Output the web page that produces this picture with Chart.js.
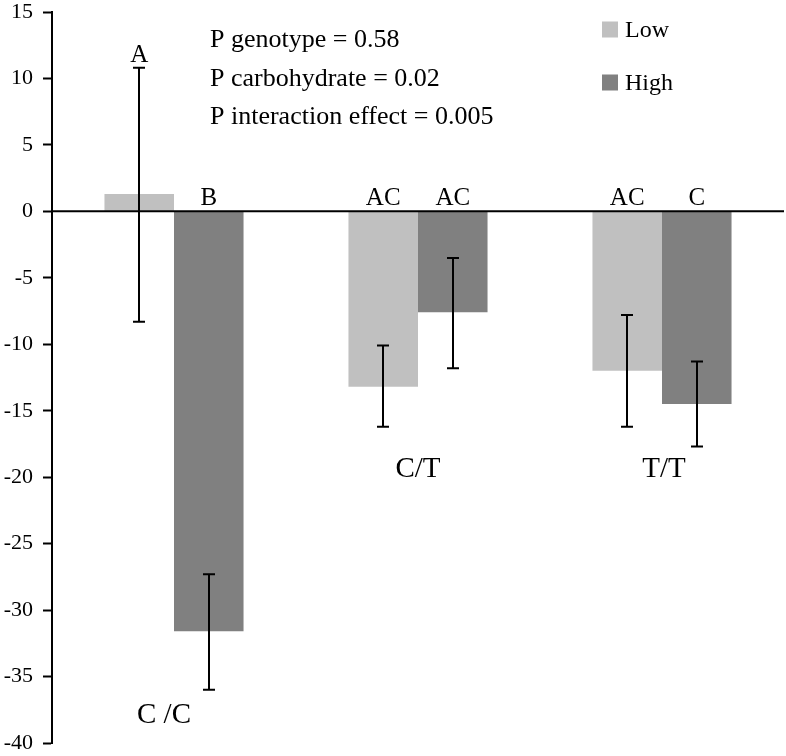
<!DOCTYPE html>
<html>
<head>
<meta charset="utf-8">
<script src="https://cdn.jsdelivr.net/npm/chart.js@4"></script>
<style>
  html, body { margin: 0; padding: 0; background: #fff; }
  #wrap { width: 786px; height: 756px; position: relative; }
</style>
</head>
<body>
<div id="wrap"><canvas id="c" width="786" height="756"></canvas></div>
<script>
// ---- data ----
const categories = ['C /C', 'C/T', 'T/T'];
const seriesNames = ['Low', 'High'];
const lowValues = [1.3, -13.2, -12.0];
const highValues = [-31.6, -7.6, -14.5];
const lowErrUpper = [10.8, -10.1, -7.8];
const lowErrLower = [-8.3, -16.2, -16.2];
const highErrUpper = [-27.3, -3.5, -11.3];
const highErrLower = [-36.0, -11.8, -17.7];
const lowLetters = ['A', 'AC', 'AC'];
const highLetters = ['B', 'AC', 'C'];
const yTickValues = [15, 10, 5, 0, -5, -10, -15, -20, -25, -30, -35, -40];
const annotationLines = ['P genotype = 0.58', 'P carbohydrate = 0.02', 'P interaction effect = 0.005'];

// ---- styles / placement ----
const FONT = "'Liberation Serif', 'Times New Roman', serif";
const COLORS = ['#c0c0c0', '#808080'];
const categoryLabelValue = [-37.9, -19.4, -19.4]; // vertical anchor (axis units)
const categoryLabelShift = [-10, 0, 2];           // small horizontal nudge (px)

const overlay = {
  id: 'overlay',
  afterDatasetsDraw(chart) {
    const ctx = chart.ctx;
    const ys = chart.scales.y;
    const xs = chart.scales.x;
    const area = chart.chartArea;
    ctx.save();
    // zero line
    const y0 = ys.getPixelForValue(0);
    ctx.strokeStyle = '#000';
    ctx.lineWidth = 2;
    ctx.beginPath();
    ctx.moveTo(area.left, y0);
    ctx.lineTo(area.right, y0);
    ctx.stroke();

    // error bars and letters
    chart.data.datasets.forEach((ds, di) => {
      const meta = chart.getDatasetMeta(di);
      meta.data.forEach((bar, i) => {
        const x = Math.round(bar.x);
        const t = ys.getPixelForValue(ds.errUpper[i]);
        const b = ys.getPixelForValue(ds.errLower[i]);
        ctx.strokeStyle = '#000';
        ctx.lineWidth = 2;
        ctx.beginPath();
        ctx.moveTo(x, t); ctx.lineTo(x, b);
        ctx.moveTo(x - 6, t); ctx.lineTo(x + 6, t);
        ctx.moveTo(x - 6, b); ctx.lineTo(x + 6, b);
        ctx.stroke();
        ctx.fillStyle = '#000';
        ctx.font = '25px ' + FONT;
        ctx.textAlign = 'center';
        ctx.textBaseline = 'alphabetic';
        const ly = ys.getPixelForValue(Math.max(0, ds.errUpper[i])) - 6;
        ctx.fillText(ds.letters[i], bar.x, ly);
      });
    });

    // category labels
    ctx.font = '29px ' + FONT;
    ctx.textAlign = 'center';
    ctx.textBaseline = 'middle';
    categories.forEach((c, i) => {
      const x = xs.getPixelForValue(i) + categoryLabelShift[i];
      ctx.fillText(c, x, ys.getPixelForValue(categoryLabelValue[i]));
    });

    // annotation
    ctx.font = '26px ' + FONT;
    ctx.textAlign = 'left';
    ctx.textBaseline = 'alphabetic';
    annotationLines.forEach((s, i) => {
      ctx.fillText(s, 210, 47 + i * 38.5);
    });

    // legend
    ctx.font = '24px ' + FONT;
    ctx.textBaseline = 'middle';
    chart.data.datasets.forEach((ds, i) => {
      const ly = 29.5 + i * 53;
      ctx.fillStyle = ds.backgroundColor;
      ctx.fillRect(602, ly - 8, 16, 16);
      ctx.fillStyle = '#000';
      ctx.fillText(ds.label, 625, ly + 1);
    });
    ctx.restore();
  }
};

new Chart(document.getElementById('c'), {
  type: 'bar',
  data: {
    labels: categories,
    datasets: [
      { label: seriesNames[0], data: lowValues, backgroundColor: COLORS[0], borderWidth: 0,
        errUpper: lowErrUpper, errLower: lowErrLower, letters: lowLetters },
      { label: seriesNames[1], data: highValues, backgroundColor: COLORS[1], borderWidth: 0,
        errUpper: highErrUpper, errLower: highErrLower, letters: highLetters }
    ]
  },
  options: {
    responsive: false,
    animation: false,
    categoryPercentage: 0.57,
    barPercentage: 1.0,
    layout: { padding: { top: 12, bottom: 13, left: 0, right: 2 } },
    plugins: {
      legend: { display: false },
      tooltip: { enabled: false }
    },
    scales: {
      x: { type: 'category', display: false, offset: true },
      y: {
        min: -40, max: 15,
        afterFit(scale) { scale.width = 52; scale.paddingTop = 0; scale.paddingBottom = 0; },
        afterBuildTicks(scale) { scale.ticks = yTickValues.map(v => ({ value: v })); },
        ticks: {
          color: '#000',
          font: { family: FONT, size: 22 },
          padding: 10,
          callback: v => String(v)
        },
        grid: {
          drawOnChartArea: false,
          drawTicks: true,
          tickLength: 9,
          tickColor: '#000',
          tickWidth: 2
        },
        border: { display: true, color: '#000', width: 2 }
      }
    }
  },
  plugins: [overlay]
});
</script>
</body>
</html>
